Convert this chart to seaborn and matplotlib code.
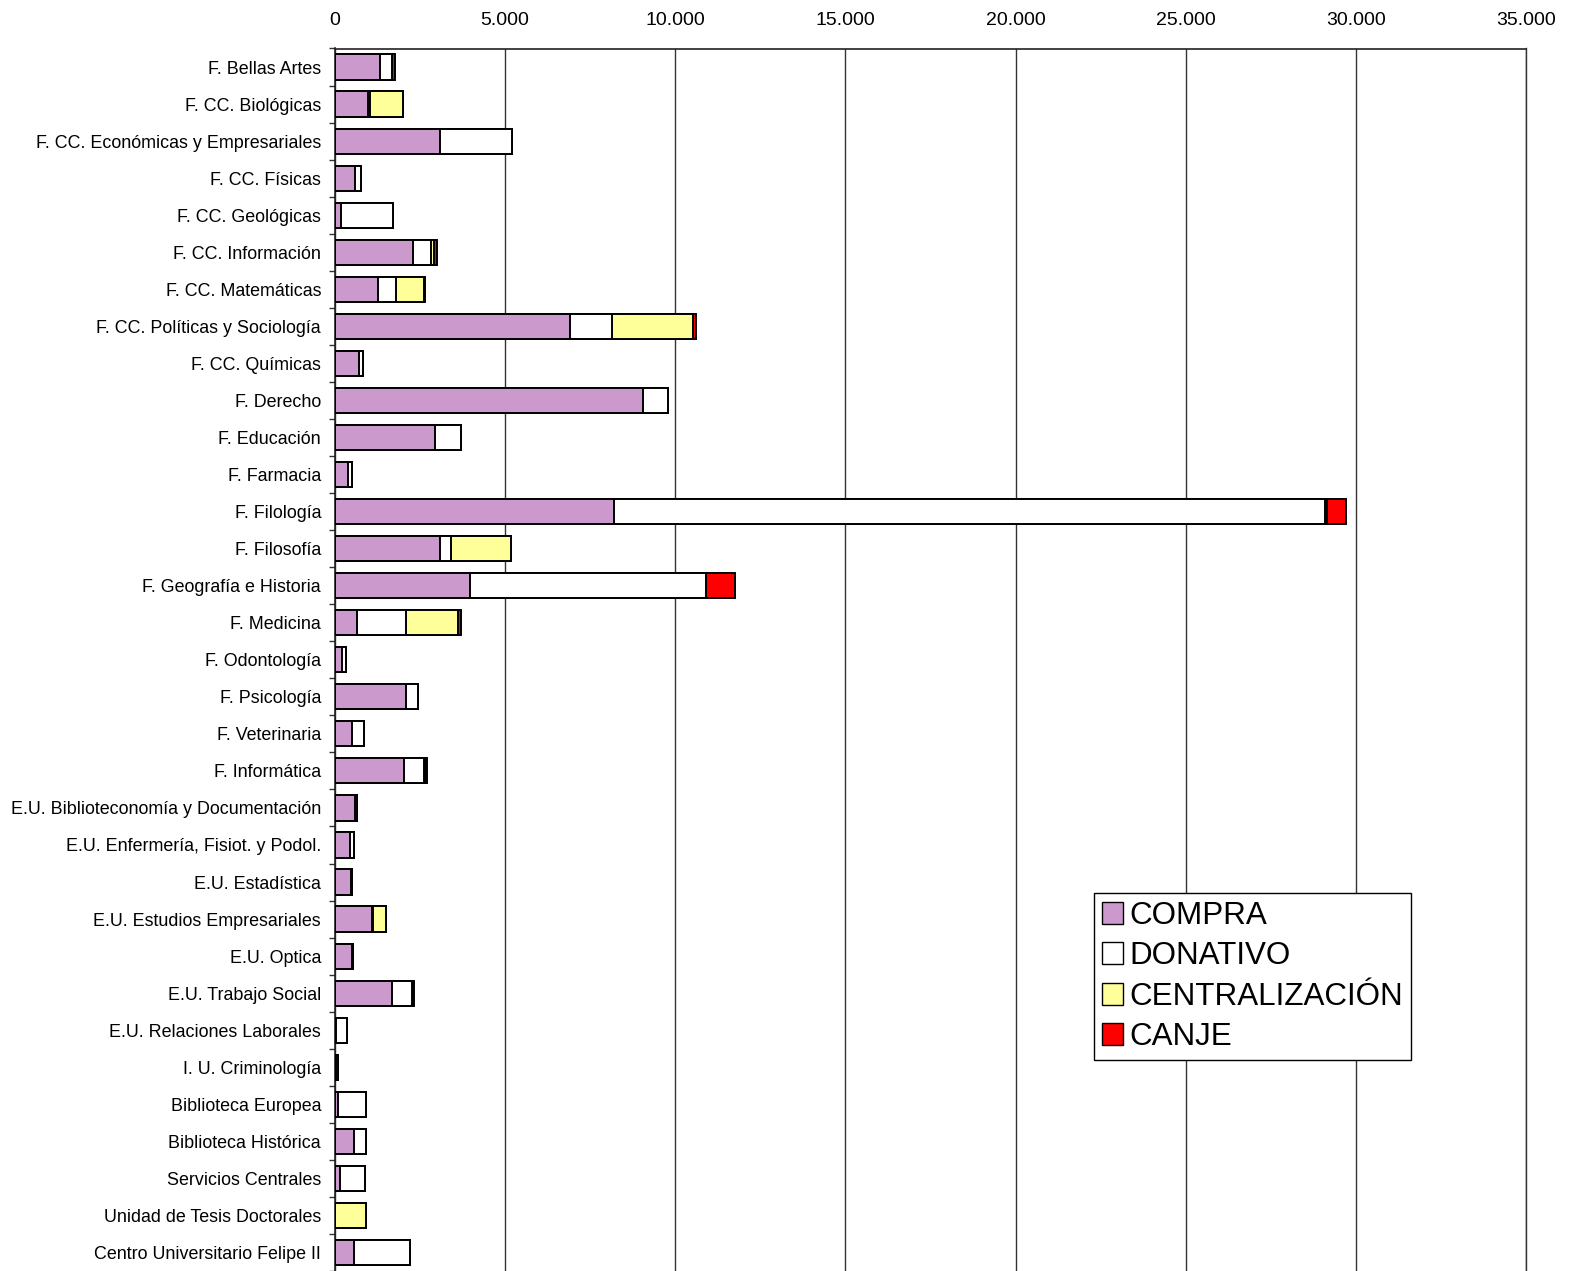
import matplotlib
matplotlib.use("Agg")
import matplotlib.pyplot as plt
from matplotlib.patches import Patch
from matplotlib.ticker import FuncFormatter, MultipleLocator, FixedLocator
import numpy as np
import pandas as pd
import seaborn as sns

centros = [
    "F. Bellas Artes", "F. CC. Biológicas", "F. CC. Económicas y Empresariales",
    "F. CC. Físicas", "F. CC. Geológicas", "F. CC. Información", "F. CC. Matemáticas",
    "F. CC. Políticas y Sociología", "F. CC. Químicas", "F. Derecho", "F. Educación",
    "F. Farmacia", "F. Filología", "F. Filosofía", "F. Geografía e Historia",
    "F. Medicina", "F. Odontología", "F. Psicología", "F. Veterinaria", "F. Informática",
    "E.U. Biblioteconomía y Documentación", "E.U. Enfermería, Fisiot. y Podol.",
    "E.U. Estadística", "E.U. Estudios Empresariales", "E.U. Optica",
    "E.U. Trabajo Social", "E.U. Relaciones Laborales", "I. U. Criminología",
    "Biblioteca Europea", "Biblioteca Histórica", "Servicios Centrales",
    "Unidad de Tesis Doctorales", "Centro Universitario Felipe II",
]

compra = [1310, 960, 3100, 590, 190, 2300, 1265, 6920, 700, 9060, 2950, 380, 8200,
          3090, 3980, 650, 210, 2080, 500, 2040, 590, 440, 480, 1090, 500, 1680, 40,
          40, 80, 560, 140, 0, 560]
donativo = [360, 80, 2110, 160, 1500, 510, 520, 1210, 130, 740, 750, 110, 20880,
            320, 6920, 1440, 120, 370, 350, 580, 60, 120, 30, 40, 30, 570, 310,
            50, 840, 360, 750, 0, 1640]
centralizacion = [0, 960, 0, 0, 0, 110, 835, 2400, 0, 0, 0, 0, 80,
                  1770, 0, 1520, 0, 0, 0, 20, 0, 0, 0, 380, 0, 0, 0,
                  0, 0, 0, 0, 920, 0]
canje = [80, 0, 0, 0, 0, 80, 20, 70, 0, 0, 0, 0, 550,
         0, 860, 90, 0, 0, 0, 60, 0, 0, 0, 0, 0, 60, 0,
         0, 0, 0, 0, 0, 0]

series = ["COMPRA", "DONATIVO", "CENTRALIZACIÓN", "CANJE"]
colores = ["#CC99CC", "#FFFFFF", "#FFFF99", "#FF0000"]

df = pd.DataFrame({"centro": centros, "COMPRA": compra, "DONATIVO": donativo,
                   "CENTRALIZACIÓN": centralizacion, "CANJE": canje})
cum = df[series].cumsum(axis=1)

sns.set_theme(style="white")
plt.rcParams["font.family"] = ["Liberation Sans", "DejaVu Sans"]
plt.rcParams["text.color"] = "black"
plt.rcParams["xtick.color"] = "black"
plt.rcParams["ytick.color"] = "black"

fig = plt.figure(figsize=(15.72, 12.71), dpi=100)
ax = fig.add_axes([335 / 1572, 0.0, 1191 / 1572, 1222.5 / 1271])

# draw cumulative totals from the outermost segment inward (stacked look)
for s, c in reversed(list(zip(series, colores))):
    sns.barplot(x=cum[s].values, y=df["centro"], orient="h", color=c, saturation=1,
                width=0.68, edgecolor="black", linewidth=1.4, ax=ax, zorder=3)

ax.set_xlim(0, 35000)
ax.set_ylim(len(centros) - 0.5, -0.5)
ax.set_xlabel("")
ax.set_ylabel("")

ax.xaxis.tick_top()
ax.xaxis.set_major_locator(MultipleLocator(5000))
ax.xaxis.set_major_formatter(FuncFormatter(lambda v, p: f"{int(v):,}".replace(",", ".")))
ax.tick_params(axis="x", which="major", length=0, pad=14, labelsize=14, labelcolor="black")
ax.tick_params(axis="y", which="major", length=0, pad=10, labelsize=12.9, labelcolor="black")
ax.yaxis.set_minor_locator(FixedLocator(np.arange(-0.5, len(centros), 1.0)))
ax.tick_params(axis="y", which="minor", length=4.5, width=1, color="#333333", left=True)

ax.grid(axis="x", color="#333333", linewidth=1.0, zorder=0)
ax.grid(axis="y", visible=False)
ax.set_axisbelow(True)

for side in ["top", "left", "right"]:
    ax.spines[side].set_visible(True)
    ax.spines[side].set_color("#222222")
    ax.spines[side].set_linewidth(1.2)
ax.spines["bottom"].set_visible(False)
ax.spines["right"].set_linewidth(1.0)
ax.spines["right"].set_color("#333333")

handles = [Patch(facecolor=c, edgecolor="black", linewidth=1.0, label=s)
           for s, c in zip(series, colores)]
leg = ax.legend(handles=handles, loc="upper left", bbox_to_anchor=(0.637, 0.309),
                fontsize=22.6, frameon=True, fancybox=False, edgecolor="black",
                framealpha=1, borderpad=0.25, handlelength=0.7, handleheight=0.7,
                handletextpad=0.2, labelspacing=0.33, borderaxespad=0,
                labelcolor="black")
leg.get_frame().set_linewidth(1.0)

fig.savefig("out.png", dpi=100, facecolor="white")
